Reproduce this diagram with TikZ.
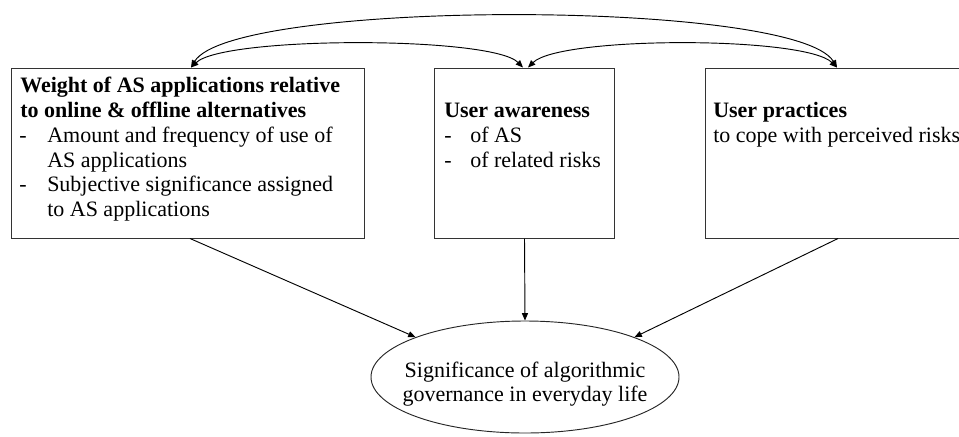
\documentclass[tikz,border=0pt]{standalone}
\usepackage{fontspec}
\setmainfont{Liberation Serif}
\usetikzlibrary{arrows.meta,shapes.geometric}
\begin{document}
\begin{tikzpicture}[x=0.75pt,y=-0.75pt,
  box/.style={draw=black!80,line width=0.75pt,inner sep=0pt,anchor=north west,minimum height=127.5pt},
  txt/.style={anchor=base west,inner sep=0pt,font=\fontsize{16.5}{18.75}\selectfont},
  btxt/.style={txt,font=\fontsize{16.5}{18.75}\selectfont\bfseries},
  ctxt/.style={align=center,inner sep=0pt,font=\fontsize{16.5}{18.2}\selectfont},
  conn/.style={line width=0.7pt,-{Triangle[length=5.5pt,width=4.5pt]}},
  dbl/.style={line width=0.7pt,{Triangle[length=5.5pt,width=4.5pt]}-{Triangle[length=5.5pt,width=4.5pt]}}]
\clip (0,0) rectangle (959,436);
\useasboundingbox (0,0) rectangle (959,436);
% boxes
\node[box,minimum width=264.75pt] (A) at (11,67.5) {};
\node[box,minimum width=135pt] (B) at (434,67.5) {};
\node[box,minimum width=300pt] (C) at (705,67.5) {};
% box A text
\node[btxt] (a1) at (20,92) {Weight of AS applications relative};
\node[btxt] (a2) at (20,117) {to online \& offline alternatives};
\node[txt] (a3d) at (19,142) {-};
\node[txt] (a3) at (47,142) {Amount and frequency of use of};
\node[txt] (a4) at (47,167) {AS applications};
\node[txt] (a5d) at (19,191) {-};
\node[txt] (a5) at (47,191) {Subjective significance assigned};
\node[txt] (a6) at (47,216) {to AS applications};
% box B text
\node[btxt] (b1) at (444,117) {User awareness};
\node[txt] (b2d) at (444,142) {-};
\node[txt] (b2) at (470,142) {of AS};
\node[txt] (b3d) at (444,167) {-};
\node[txt] (b3) at (470,167) {of related risks};
% box C text
\node[btxt] (c1) at (713,117) {User practices};
\node[txt] (c2) at (713,142) {to cope with perceived risks};
% ellipse
\node[ellipse,draw=black!85,line width=0.7pt,minimum width=231pt,minimum height=84pt,inner sep=0pt] (E) at (525,377) {};
\node[ctxt] (Et) at (525,384) {Significance of algorithmic\\governance in everyday life};
% connectors to ellipse
\draw[conn] (A.south -| 190,0) -- (E.160);
\draw[conn] (B.south) -- (E.north);
\draw[conn] (C.south -| 838,0) -- (E.20);
% curved double arrows
\draw[dbl] (A.north -| 191,0) .. controls (232,-1) and (796,-1) .. (C.north -| 837,0);
\draw[dbl] (A.north -| 191,0) .. controls (224,36) and (492,36) .. (B.north -| 523,0);
\draw[dbl] (B.north -| 528,0) .. controls (560,36) and (805,36) .. (C.north -| 837,0);
\end{tikzpicture}
\end{document}
